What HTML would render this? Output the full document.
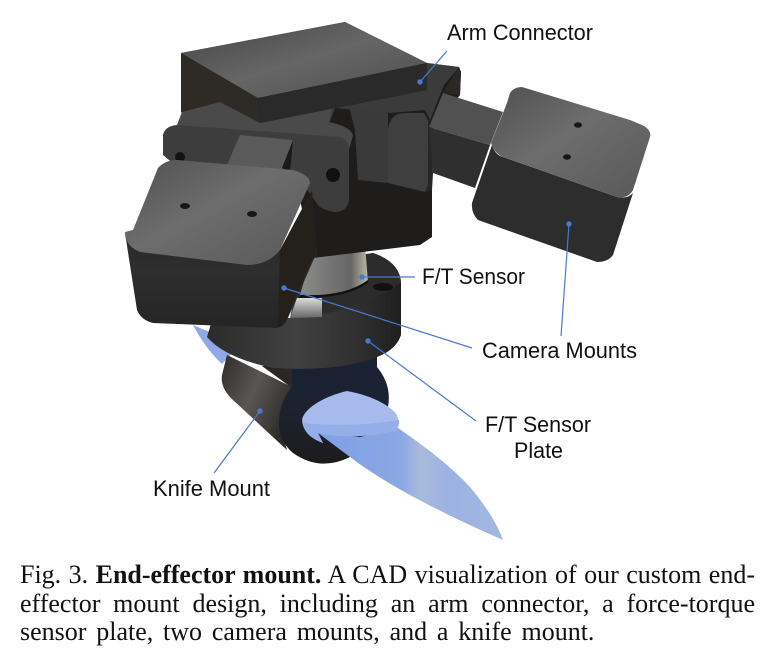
<!DOCTYPE html>
<html><head><meta charset="utf-8"><style>
html,body{margin:0;padding:0;background:#fff;width:770px;height:664px;overflow:hidden}
svg{position:absolute;left:0;top:0}
.c{position:absolute;left:20px;width:735px;font:26px/29px "Liberation Serif",serif;color:#111;white-space:nowrap;}
.j{text-align:justify;text-align-last:justify;white-space:normal}
.l{font-family:"Liberation Sans",sans-serif;font-size:22px;fill:#111}
</style></head><body>
<svg width="770" height="664" viewBox="0 0 770 664" xmlns="http://www.w3.org/2000/svg">
<defs>
<linearGradient id="top" x1="0" y1="0" x2="1" y2="1"><stop offset="0" stop-color="#444"/><stop offset=".5" stop-color="#666"/><stop offset="1" stop-color="#4c4c4c"/></linearGradient>
<linearGradient id="cam" x1="0" y1="0" x2="1" y2="1"><stop offset="0" stop-color="#505050"/><stop offset=".45" stop-color="#6d6d6d"/><stop offset="1" stop-color="#585858"/></linearGradient>
<linearGradient id="front" x1="0" y1="0" x2="0" y2="1"><stop offset="0" stop-color="#242424"/><stop offset=".6" stop-color="#2e2e2e"/><stop offset="1" stop-color="#252525"/></linearGradient>
<linearGradient id="silver" x1="0" y1="0" x2="1" y2="0"><stop offset="0" stop-color="#8c8c8a"/><stop offset=".4" stop-color="#777"/><stop offset=".75" stop-color="#666"/><stop offset="1" stop-color="#b9b9a8"/></linearGradient>
<linearGradient id="blade" x1="0" y1="0" x2="1" y2="0"><stop offset="0" stop-color="#7f9fe6"/><stop offset=".45" stop-color="#8ba8e4"/><stop offset=".55" stop-color="#a9bbdc"/><stop offset=".7" stop-color="#9bb2e2"/><stop offset="1" stop-color="#a2b8df"/></linearGradient>
<linearGradient id="band" x1="0" y1="0" x2="1" y2="0"><stop offset="0" stop-color="#2b2b2b"/><stop offset=".45" stop-color="#414141"/><stop offset=".8" stop-color="#2e2e2e"/><stop offset="1" stop-color="#1f1f1f"/></linearGradient>
<linearGradient id="cyl" x1="0" y1="0" x2="1" y2="0.6"><stop offset="0" stop-color="#2e2c2a"/><stop offset=".5" stop-color="#5a5653"/><stop offset="1" stop-color="#2c2a28"/></linearGradient>
<linearGradient id="mnt" x1="0" y1="0" x2="0" y2="1"><stop offset="0" stop-color="#192133"/><stop offset=".5" stop-color="#1c2230"/><stop offset="1" stop-color="#1c1c1c"/></linearGradient>
<linearGradient id="white" x1="0" y1="0" x2="0" y2="1"><stop offset="0" stop-color="#dcdcd8"/><stop offset="1" stop-color="#666"/></linearGradient>
</defs>
<!-- behind blade -->
<path d="M193,325 Q205,348 222,364 L240,345 Z" fill="#8fa9e6"/>
<!-- knife mount -->
<path d="M227,355 L292,387 L279,422 L287,450 L233,400 Q220,388 222,375 Z" fill="url(#cyl)"/>
<path d="M262,366 L377,352 L377,367 Q392,385 388,407 L350,457 Q320,472 293,453 Q278,440 279,422 Q280,400 292,387 Z" fill="url(#mnt)"/>
<path d="M262,366 L292,366 L292,388 Z" fill="#2a2725"/>
<!-- sensor plate disc -->
<path d="M290,318 L300,268 L373,253 Q400,262 401,283 L401,335 Q396,350 377,357 Q340,372 273,368 Q225,358 207,337 L215,310 Z" fill="url(#band)"/>
<path d="M290,318 Q350,315 401,283 Q400,262 373,253 L310,262 Z" fill="#2c2c2c"/>
<path d="M313,250 L365,245 L368,282 Q350,293 330,295 L300,295 Z" fill="url(#silver)"/>
<path d="M300,295 Q345,297 368,280 L368,283 Q345,299 299,298 Z" fill="#111"/>
<path d="M297,298 L322,298 L322,317 L290,318 Z" fill="url(#white)"/>
<ellipse cx="383" cy="287" rx="10" ry="4" fill="#111"/>
<!-- blade -->
<path d="M318,433 L360,437 L398,428 Q445,460 470,487 Q495,517 503,540 Q400,495 350,457 Z" fill="url(#blade)"/>
<path d="M302,420 C304,408 325,396 347,391 C370,395 390,405 397,415 L399,423 Q397,432 390,432 Q350,440 318,433 L323,443 Q303,436 302,420 Z" fill="#a6bbec"/>
<path d="M303,423 Q350,428 399,420 L399,424 Q397,432 390,432 Q350,440 318,433 L323,443 Q305,436 303,423 Z" fill="#94aeea"/>
<!-- back block -->
<path d="M181,53 L345,22 L427,63 L459,67 L461,72 L460,95 L432,130 L432,237 L420,245 L313,258 L300,200 L181,112 Z" fill="#1e1d1c"/>
<path d="M181,53 L258,98 L260,123 L181,112 Z" fill="#2e2b27"/>
<path d="M427,63 L459,67 L444,85 L430,120 L425,110 L390,113 L335,108 L330,122 L300,115 L427,90 Z" fill="#3b3b3b"/>
<path d="M459,67 L461,72 L460,95 L443,93 Z" fill="#2b2824"/>
<!-- left plate bracket -->
<path d="M182,112 L220,102 L260,123 L332,108 L329,122 L333,123 Q350,127 353,135 L349,150 L177,125 Z" fill="#4a4a4a"/>
<path d="M163,135 Q165,126 177,125 L340,137 Q349,140 349,150 L349,200 Q347,212 335,212 Q322,210 318,205 L300,180 L175,165 L163,155 Z" fill="#3d3d3d"/>
<path d="M240,135 L293,140 L282,170 L227,165 Z" fill="#5a5a5a"/>
<path d="M293,140 L282,168 L290,172 Z" fill="#1a1a1a"/>
<circle cx="333" cy="175" r="7" fill="#111"/>
<circle cx="180" cy="157" r="5" fill="#111"/>
<!-- top plate -->
<path d="M181,53 L345,22 L427,63 L258,98 Z" fill="url(#top)"/>
<path d="M258,98 L427,63 L427,90 L260,123 Z" fill="#2a2a2a"/>
<!-- right bracket pieces -->
<path d="M349,107 L388,113 L388,183 L358,180 L355,130 Z" fill="#3a3a3a"/>
<path d="M388,130 Q390,113 405,113 L424,113 L428,120 L428,185 L425,192 L388,183 Z" fill="#3f3f3f"/>
<path d="M425,192 L428,185 L428,120 L430,120 L433,173 L432,190 Z" fill="#262626"/>
<!-- right arm -->
<path d="M443,93 L503,112 L490,145 L429,127 Z" fill="#515151"/>
<path d="M429,127 L490,145 L475,188 L433,173 Z" fill="#2f2f2f"/>
<!-- right camera -->
<path d="M492,145 Q495,155 503,157 L617,197 Q628,199 633,193 L613,255 Q608,262 597,262 L478,220 Q471,213 472,203 Z" fill="#2d2d2d"/>
<path d="M510,93 Q514,87 522,87 L630,120 L642,125 Q652,130 650,137 L633,190 Q628,199 617,197 L503,157 Q494,153 491,143 L507,103 Z" fill="url(#cam)"/>
<ellipse cx="578" cy="125" rx="4" ry="2.7" fill="#161616"/>
<ellipse cx="567" cy="157" rx="4" ry="2.7" fill="#161616"/>
<!-- left camera -->
<path d="M125,233 L137,310 Q141,320 153,323 L277,328 Q284,326 287,320 L317,252 L312,190 L280,250 Z" fill="url(#front)"/>
<path d="M280,250 L312,192 L317,250 L293,303 L285,323 Q283,326 278,327 Z" fill="#24201b"/>
<path d="M125,232 L133,230 L158,168 Q165,160 177,160 L293,170 Q310,175 310,183 L280,250 Q268,265 247,265 L140,252 Q125,246 125,232 Z" fill="url(#cam)"/>
<ellipse cx="185" cy="206" rx="5" ry="3" fill="#161616"/>
<ellipse cx="252" cy="214" rx="5" ry="3" fill="#161616"/>
<!-- leader lines -->
<g stroke="#4a78d0" stroke-width="1.2" fill="none">
<line x1="420" y1="82" x2="447" y2="51"/>
<line x1="362" y1="277" x2="415" y2="277"/>
<line x1="284" y1="288" x2="472" y2="348"/>
<line x1="569" y1="224" x2="561" y2="336"/>
<line x1="368" y1="341" x2="476" y2="421"/>
<line x1="260" y1="411" x2="214" y2="473"/>
</g>
<g fill="#4a78d0">
<circle cx="420" cy="82" r="2.7"/><circle cx="362" cy="277" r="2.7"/><circle cx="284" cy="288" r="2.7"/>
<circle cx="569" cy="224" r="2.7"/><circle cx="368" cy="341" r="2.7"/><circle cx="260" cy="411" r="2.7"/>
</g>
<text class="l" x="447" y="40" textLength="146" lengthAdjust="spacingAndGlyphs">Arm Connector</text>
<text class="l" x="422" y="284" textLength="103" lengthAdjust="spacingAndGlyphs">F/T Sensor</text>
<text class="l" x="482" y="358" textLength="155" lengthAdjust="spacingAndGlyphs">Camera Mounts</text>
<text class="l" x="485" y="432" textLength="106" lengthAdjust="spacingAndGlyphs">F/T Sensor</text>
<text class="l" x="514" y="458" textLength="49" lengthAdjust="spacingAndGlyphs">Plate</text>
<text class="l" x="153" y="496" textLength="117" lengthAdjust="spacingAndGlyphs">Knife Mount</text>
</svg>
<div class="c j" style="top:560px">Fig. 3. <b>End-effector mount.</b> A CAD visualization of our custom end-</div>
<div class="c j" style="top:589px">effector mount design, including an arm connector, a force-torque</div>
<div class="c" style="top:617px;word-spacing:3.3px">sensor plate, two camera mounts, and a knife mount.</div>
</body></html>
